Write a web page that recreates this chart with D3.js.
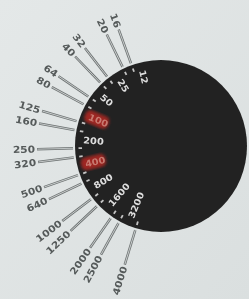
<!DOCTYPE html>
<html>
<head>
<meta charset="utf-8">
<script src="https://cdn.jsdelivr.net/npm/d3@7"></script>
<style>
  html, body { margin: 0; padding: 0; background: #dfe3e3; overflow: hidden; }
</style>
</head>
<body>
<svg id="dial" width="249" height="299"></svg>
<script>
// film speed scale, one entry per third stop
const speeds = [12, 16, 20, 25, 32, 40, 50, 64, 80, 100, 125, 160, 200, 250, 320, 400, 500, 640, 800, 1000, 1250, 1600, 2000, 2500, 3200, 4000];
// full stops printed on the dial itself
const dialLabels = ["12", "25", "50", "100", "200", "400", "800", "1600", "3200"];
// third stops printed outside, with leader lines
const outerLabels = ["16", "20", "32", "40", "64", "80", "125", "160", "250", "320", "500", "640", "1000", "1250", "2000", "2500", "4000"];
// stops with a red marker
const redStops = ["100", "400"];

const width = 249;
const height = 299;
const cx = 161;
const cy = 146;
const radius = 86;

var svg = d3.select("#dial");
var defs = svg.append("defs");

// soft photo look
defs.append("filter").attr("id", "soft")
  .append("feGaussianBlur").attr("stdDeviation", 0.5);
defs.append("filter").attr("id", "softer")
  .append("feGaussianBlur").attr("stdDeviation", 1.4);

var bg = defs.append("linearGradient").attr("id", "bg")
  .attr("x1", 0).attr("y1", 0).attr("x2", 1).attr("y2", 1);
bg.append("stop").attr("offset", "0%").attr("stop-color", "#e4e8e8");
bg.append("stop").attr("offset", "100%").attr("stop-color", "#dadfdf");

svg.append("rect")
  .attr("width", width)
  .attr("height", height)
  .attr("fill", "url(#bg)");

// index on the scale -> angle in degrees (screen coords, y down)
const angle = d3.scaleLinear()
  .domain([0, speeds.length - 1])
  .range([256, 107]);

function pt(r, deg) {
  var a = deg * Math.PI / 180;
  return [cx + r * Math.cos(a), cy + r * Math.sin(a)];
}

function idxOf(label) {
  return speeds.indexOf(+label);
}

// place something at radius r, rotated so +x points at the centre
function radial(r, label, sx) {
  var deg = angle(idxOf(label));
  var p = pt(r, deg);
  return `translate(${p[0]},${p[1]}) rotate(${deg - 180}) scale(${sx || 1},1)`;
}

var g = svg.append("g").attr("filter", "url(#soft)");

// the dial
g.append("circle")
  .attr("cx", cx)
  .attr("cy", cy)
  .attr("r", radius)
  .attr("fill", "#222222");

// red markers
g.selectAll(".red")
  .data(redStops)
  .enter()
  .append("rect")
  .attr("class", "red")
  .attr("x", -1)
  .attr("y", -6.5)
  .attr("width", 25)
  .attr("height", 13)
  .attr("rx", 5)
  .attr("fill", "#9e2820")
  .attr("filter", "url(#softer)")
  .attr("transform", d => radial(81, d));

// small marks for the third stops on the dial
var thirds = speeds.filter(s => dialLabels.indexOf(String(s)) < 0);
g.selectAll(".third")
  .data(thirds)
  .enter()
  .append("line")
  .attr("class", "third")
  .attr("x1", 0)
  .attr("y1", 0)
  .attr("x2", 3.5)
  .attr("y2", 0)
  .attr("stroke", "#c4c4c4")
  .attr("stroke-width", 1.8)
  .attr("transform", d => radial(82.5, d));

// full stop numbers on the dial
g.selectAll(".dialLabel")
  .data(dialLabels)
  .enter()
  .append("text")
  .attr("class", "dialLabel")
  .attr("text-anchor", "start")
  .attr("dominant-baseline", "central")
  .attr("font-family", "DejaVu Sans, sans-serif")
  .attr("font-weight", "bold")
  .attr("font-size", "9px")
  .attr("fill", d => redStops.indexOf(d) >= 0 ? "#c77a70" : "#dedede")
  .attr("transform", d => radial(78, d, 1.1))
  .text(d => d);

// leader lines, drawn as a thin hollow bar
var leaders = g.selectAll(".leader")
  .data(outerLabels)
  .enter()
  .append("g")
  .attr("class", "leader")
  .attr("transform", d => radial(124, d));

leaders.append("line")
  .attr("x1", 0)
  .attr("y1", 0)
  .attr("x2", 36)
  .attr("y2", 0)
  .attr("stroke", "#6f7474")
  .attr("stroke-width", 2.5);

leaders.append("line")
  .attr("x1", 0.5)
  .attr("y1", 0)
  .attr("x2", 36)
  .attr("y2", 0)
  .attr("stroke", "#d3d7d7")
  .attr("stroke-width", 0.8);

// third stop numbers outside
g.selectAll(".outerLabel")
  .data(outerLabels)
  .enter()
  .append("text")
  .attr("class", "outerLabel")
  .attr("text-anchor", "end")
  .attr("dominant-baseline", "central")
  .attr("font-family", "DejaVu Sans, sans-serif")
  .attr("font-weight", "bold")
  .attr("font-size", "9.5px")
  .attr("fill", "#555a5a")
  .attr("transform", d => radial(126, d, 1.12))
  .text(d => d);
</script>
</body>
</html>
